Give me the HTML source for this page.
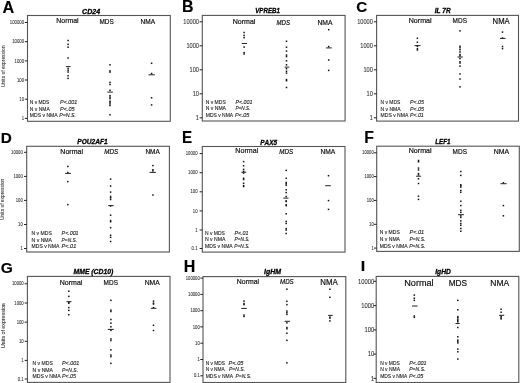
<!DOCTYPE html>
<html><head><meta charset="utf-8"><style>
html,body{margin:0;padding:0;background:#fff;}
svg{display:block;will-change:transform;filter:blur(0.3px);}
text{font-family:"Liberation Sans", sans-serif;font-kerning:none;}
</style></head><body>
<svg width="520" height="383" viewBox="0 0 520 383">
<rect width="520" height="383" fill="#fff"/>
<rect x="27.50" y="15.50" width="142.80" height="105.80" fill="none" stroke="#555" stroke-width="1.1"/>
<text transform="translate(2.50,12.60) scale(1.025,1)" font-size="15.84" font-weight="bold" font-style="normal" fill="#000" stroke="#000" stroke-width="0.150">A</text>
<text transform="translate(82.10,14.28) scale(0.981,1)" font-size="7.20" font-weight="bold" font-style="italic" fill="#000" stroke="#000" stroke-width="0.300">CD24</text>
<text transform="translate(56.28,23.41) scale(0.949,1)" font-size="7.30" font-weight="normal" font-style="normal" fill="#111" stroke="#111" stroke-width="0.200">Normal</text>
<text transform="translate(99.42,23.76) scale(0.883,1)" font-size="7.30" font-weight="normal" font-style="normal" fill="#111" stroke="#111" stroke-width="0.200">MDS</text>
<text transform="translate(140.61,23.91) scale(0.903,1)" font-size="7.30" font-weight="normal" font-style="normal" fill="#111" stroke="#111" stroke-width="0.200">NMA</text>
<line x1="24.80" y1="22.50" x2="27.50" y2="22.50" stroke="#222" stroke-width="1.0"/>
<text transform="translate(24.10,24.25) scale(0.86,1)" font-size="5.00" text-anchor="end" fill="#333" stroke="#333" stroke-width="0.08">100000</text>
<line x1="24.80" y1="41.70" x2="27.50" y2="41.70" stroke="#222" stroke-width="1.0"/>
<text transform="translate(24.10,43.45) scale(0.86,1)" font-size="5.00" text-anchor="end" fill="#333" stroke="#333" stroke-width="0.08">10000</text>
<line x1="24.80" y1="60.90" x2="27.50" y2="60.90" stroke="#222" stroke-width="1.0"/>
<text transform="translate(24.10,62.65) scale(0.86,1)" font-size="5.00" text-anchor="end" fill="#333" stroke="#333" stroke-width="0.08">1000</text>
<line x1="24.80" y1="80.00" x2="27.50" y2="80.00" stroke="#222" stroke-width="1.0"/>
<text transform="translate(24.10,81.75) scale(0.86,1)" font-size="5.00" text-anchor="end" fill="#333" stroke="#333" stroke-width="0.08">100</text>
<line x1="24.80" y1="99.20" x2="27.50" y2="99.20" stroke="#222" stroke-width="1.0"/>
<text transform="translate(24.10,100.95) scale(0.86,1)" font-size="5.00" text-anchor="end" fill="#333" stroke="#333" stroke-width="0.08">10</text>
<line x1="24.80" y1="118.40" x2="27.50" y2="118.40" stroke="#222" stroke-width="1.0"/>
<text transform="translate(24.10,120.15) scale(0.86,1)" font-size="5.00" text-anchor="end" fill="#333" stroke="#333" stroke-width="0.08">1</text>
<text transform="translate(4.90,66.25) rotate(-90)" font-size="5" text-anchor="middle" fill="#444" stroke="#444" stroke-width="0.1" textLength="41.5" lengthAdjust="spacingAndGlyphs">Units of expression</text>
<text transform="translate(29.85,104.18) scale(0.872,1)" font-size="5.60" font-weight="normal" font-style="normal" fill="#222" stroke="#222" stroke-width="0.120">N v MDS</text>
<text transform="translate(60.08,104.18) scale(0.962,1)" font-size="5.60" font-weight="normal" font-style="italic" fill="#222" stroke="#222" stroke-width="0.120">P&lt;.001</text>
<text transform="translate(29.84,110.83) scale(0.889,1)" font-size="5.60" font-weight="normal" font-style="normal" fill="#222" stroke="#222" stroke-width="0.120">N v NMA</text>
<text transform="translate(60.08,110.83) scale(0.977,1)" font-size="5.60" font-weight="normal" font-style="italic" fill="#222" stroke="#222" stroke-width="0.120">P&lt;.05</text>
<text transform="translate(29.83,117.23) scale(0.903,1)" font-size="5.60" font-weight="normal" font-style="normal" fill="#222" stroke="#222" stroke-width="0.120">MDS v NMA</text>
<text transform="translate(59.19,117.23) scale(0.939,1)" font-size="5.60" font-weight="normal" font-style="italic" fill="#222" stroke="#222" stroke-width="0.120">P=N.S.</text>
<rect x="67.35" y="39.75" width="1.50" height="1.50" fill="#111"/>
<rect x="67.35" y="43.65" width="1.50" height="1.50" fill="#111"/>
<rect x="67.35" y="46.45" width="1.50" height="1.50" fill="#111"/>
<rect x="67.35" y="57.25" width="1.50" height="1.50" fill="#111"/>
<rect x="67.35" y="67.75" width="1.50" height="1.50" fill="#111"/>
<rect x="67.35" y="69.45" width="1.50" height="1.50" fill="#111"/>
<rect x="67.35" y="71.25" width="1.50" height="1.50" fill="#111"/>
<rect x="67.35" y="74.95" width="1.50" height="1.50" fill="#111"/>
<rect x="67.35" y="77.65" width="1.50" height="1.50" fill="#111"/>
<rect x="109.25" y="64.05" width="1.50" height="1.50" fill="#111"/>
<rect x="109.25" y="70.15" width="1.50" height="1.50" fill="#111"/>
<rect x="109.25" y="71.35" width="1.50" height="1.50" fill="#111"/>
<rect x="109.25" y="81.65" width="1.50" height="1.50" fill="#111"/>
<rect x="109.25" y="83.75" width="1.50" height="1.50" fill="#111"/>
<rect x="109.25" y="89.55" width="1.50" height="1.50" fill="#111"/>
<rect x="109.25" y="94.85" width="1.50" height="1.50" fill="#111"/>
<rect x="109.25" y="96.35" width="1.50" height="1.50" fill="#111"/>
<rect x="109.25" y="97.85" width="1.50" height="1.50" fill="#111"/>
<rect x="109.25" y="100.45" width="1.50" height="1.50" fill="#111"/>
<rect x="109.25" y="101.65" width="1.50" height="1.50" fill="#111"/>
<rect x="109.25" y="103.15" width="1.50" height="1.50" fill="#111"/>
<rect x="109.25" y="104.75" width="1.50" height="1.50" fill="#111"/>
<rect x="109.25" y="114.05" width="1.50" height="1.50" fill="#111"/>
<rect x="150.85" y="62.55" width="1.50" height="1.50" fill="#111"/>
<rect x="150.85" y="72.75" width="1.50" height="1.50" fill="#111"/>
<rect x="150.85" y="97.05" width="1.50" height="1.50" fill="#111"/>
<rect x="150.85" y="104.15" width="1.50" height="1.50" fill="#111"/>
<rect x="65.90" y="66.10" width="4.70" height="1.00" fill="#222"/>
<rect x="107.30" y="91.60" width="5.60" height="1.00" fill="#222"/>
<rect x="148.50" y="74.30" width="6.30" height="1.00" fill="#222"/>
<rect x="202.30" y="15.40" width="142.80" height="105.60" fill="none" stroke="#555" stroke-width="1.1"/>
<text transform="translate(182.04,11.50) scale(0.952,1)" font-size="16.72" font-weight="bold" font-style="normal" fill="#000" stroke="#000" stroke-width="0.150">B</text>
<text transform="translate(255.23,12.98) scale(0.859,1)" font-size="7.20" font-weight="bold" font-style="italic" fill="#000" stroke="#000" stroke-width="0.300">VPREB1</text>
<text transform="translate(232.77,24.36) scale(0.963,1)" font-size="7.30" font-weight="normal" font-style="normal" fill="#111" stroke="#111" stroke-width="0.200">Normal</text>
<text transform="translate(276.56,25.11) scale(0.829,1)" font-size="7.30" font-weight="normal" font-style="italic" fill="#111" stroke="#111" stroke-width="0.200">MDS</text>
<text transform="translate(317.39,25.11) scale(0.929,1)" font-size="7.30" font-weight="normal" font-style="normal" fill="#111" stroke="#111" stroke-width="0.200">NMA</text>
<line x1="199.60" y1="21.80" x2="202.30" y2="21.80" stroke="#222" stroke-width="1.0"/>
<text transform="translate(199.00,24.07) scale(0.87,1)" font-size="6.50" text-anchor="end" fill="#333" stroke="#333" stroke-width="0.08">10000</text>
<line x1="199.60" y1="45.80" x2="202.30" y2="45.80" stroke="#222" stroke-width="1.0"/>
<text transform="translate(199.00,48.07) scale(0.87,1)" font-size="6.50" text-anchor="end" fill="#333" stroke="#333" stroke-width="0.08">1000</text>
<line x1="199.60" y1="69.80" x2="202.30" y2="69.80" stroke="#222" stroke-width="1.0"/>
<text transform="translate(199.00,72.08) scale(0.87,1)" font-size="6.50" text-anchor="end" fill="#333" stroke="#333" stroke-width="0.08">100</text>
<line x1="199.60" y1="93.80" x2="202.30" y2="93.80" stroke="#222" stroke-width="1.0"/>
<text transform="translate(199.00,96.08) scale(0.87,1)" font-size="6.50" text-anchor="end" fill="#333" stroke="#333" stroke-width="0.08">10</text>
<line x1="199.60" y1="117.80" x2="202.30" y2="117.80" stroke="#222" stroke-width="1.0"/>
<text transform="translate(199.00,120.08) scale(0.87,1)" font-size="6.50" text-anchor="end" fill="#333" stroke="#333" stroke-width="0.08">1</text>
<text transform="translate(205.74,103.83) scale(0.895,1)" font-size="5.60" font-weight="normal" font-style="normal" fill="#222" stroke="#222" stroke-width="0.120">N v MDS</text>
<text transform="translate(235.49,103.83) scale(0.950,1)" font-size="5.60" font-weight="normal" font-style="italic" fill="#222" stroke="#222" stroke-width="0.120">P&lt;.001</text>
<text transform="translate(205.73,110.43) scale(0.907,1)" font-size="5.60" font-weight="normal" font-style="normal" fill="#222" stroke="#222" stroke-width="0.120">N v NMA</text>
<text transform="translate(235.51,110.43) scale(0.828,1)" font-size="5.60" font-weight="normal" font-style="italic" fill="#222" stroke="#222" stroke-width="0.120">P=N.S.</text>
<text transform="translate(205.74,116.88) scale(0.894,1)" font-size="5.60" font-weight="normal" font-style="normal" fill="#222" stroke="#222" stroke-width="0.120">MDS v NMA</text>
<text transform="translate(234.88,116.88) scale(0.977,1)" font-size="5.60" font-weight="normal" font-style="italic" fill="#222" stroke="#222" stroke-width="0.120">P&lt;.05</text>
<rect x="243.35" y="31.75" width="1.50" height="1.50" fill="#111"/>
<rect x="243.35" y="34.65" width="1.50" height="1.50" fill="#111"/>
<rect x="243.35" y="36.85" width="1.50" height="1.50" fill="#111"/>
<rect x="243.35" y="46.35" width="1.50" height="1.50" fill="#111"/>
<rect x="243.35" y="51.85" width="1.50" height="1.50" fill="#111"/>
<rect x="243.35" y="53.25" width="1.50" height="1.50" fill="#111"/>
<rect x="285.75" y="40.55" width="1.50" height="1.50" fill="#111"/>
<rect x="285.75" y="46.45" width="1.50" height="1.50" fill="#111"/>
<rect x="285.75" y="50.35" width="1.50" height="1.50" fill="#111"/>
<rect x="285.75" y="54.35" width="1.50" height="1.50" fill="#111"/>
<rect x="285.75" y="55.85" width="1.50" height="1.50" fill="#111"/>
<rect x="285.75" y="60.05" width="1.50" height="1.50" fill="#111"/>
<rect x="285.75" y="64.05" width="1.50" height="1.50" fill="#111"/>
<rect x="285.75" y="67.95" width="1.50" height="1.50" fill="#111"/>
<rect x="285.75" y="70.55" width="1.50" height="1.50" fill="#111"/>
<rect x="285.75" y="72.35" width="1.50" height="1.50" fill="#111"/>
<rect x="285.75" y="78.85" width="1.50" height="1.50" fill="#111"/>
<rect x="285.75" y="79.95" width="1.50" height="1.50" fill="#111"/>
<rect x="285.75" y="86.75" width="1.50" height="1.50" fill="#111"/>
<rect x="327.95" y="28.95" width="1.50" height="1.50" fill="#111"/>
<rect x="327.95" y="45.85" width="1.50" height="1.50" fill="#111"/>
<rect x="327.95" y="59.25" width="1.50" height="1.50" fill="#111"/>
<rect x="327.95" y="69.65" width="1.50" height="1.50" fill="#111"/>
<rect x="241.80" y="43.00" width="5.20" height="1.00" fill="#222"/>
<rect x="284.60" y="66.60" width="4.70" height="1.00" fill="#222"/>
<rect x="326.10" y="47.40" width="5.70" height="1.00" fill="#222"/>
<rect x="376.60" y="15.40" width="141.90" height="105.70" fill="none" stroke="#555" stroke-width="1.1"/>
<text transform="translate(356.37,12.00) scale(1.042,1)" font-size="14.68" font-weight="bold" font-style="normal" fill="#000" stroke="#000" stroke-width="0.150">C</text>
<text transform="translate(434.63,13.38) scale(0.912,1)" font-size="7.20" font-weight="bold" font-style="italic" fill="#000" stroke="#000" stroke-width="0.300">IL 7R</text>
<text transform="translate(408.77,22.51) scale(0.967,1)" font-size="7.30" font-weight="normal" font-style="normal" fill="#111" stroke="#111" stroke-width="0.200">Normal</text>
<text transform="translate(452.62,23.41) scale(0.883,1)" font-size="7.30" font-weight="normal" font-style="normal" fill="#111" stroke="#111" stroke-width="0.200">MDS</text>
<text transform="translate(492.62,23.84) scale(0.919,1)" font-size="8.40" font-weight="normal" font-style="normal" fill="#111" stroke="#111" stroke-width="0.200">NMA</text>
<line x1="373.90" y1="21.80" x2="376.60" y2="21.80" stroke="#222" stroke-width="1.0"/>
<text transform="translate(372.90,24.07) scale(0.87,1)" font-size="6.50" text-anchor="end" fill="#333" stroke="#333" stroke-width="0.08">10000</text>
<line x1="373.90" y1="45.80" x2="376.60" y2="45.80" stroke="#222" stroke-width="1.0"/>
<text transform="translate(372.90,48.07) scale(0.87,1)" font-size="6.50" text-anchor="end" fill="#333" stroke="#333" stroke-width="0.08">1000</text>
<line x1="373.90" y1="69.80" x2="376.60" y2="69.80" stroke="#222" stroke-width="1.0"/>
<text transform="translate(372.90,72.08) scale(0.87,1)" font-size="6.50" text-anchor="end" fill="#333" stroke="#333" stroke-width="0.08">100</text>
<line x1="373.90" y1="93.80" x2="376.60" y2="93.80" stroke="#222" stroke-width="1.0"/>
<text transform="translate(372.90,96.08) scale(0.87,1)" font-size="6.50" text-anchor="end" fill="#333" stroke="#333" stroke-width="0.08">10</text>
<line x1="373.90" y1="117.80" x2="376.60" y2="117.80" stroke="#222" stroke-width="1.0"/>
<text transform="translate(372.90,120.08) scale(0.87,1)" font-size="6.50" text-anchor="end" fill="#333" stroke="#333" stroke-width="0.08">1</text>
<text transform="translate(380.55,104.38) scale(0.881,1)" font-size="5.60" font-weight="normal" font-style="normal" fill="#222" stroke="#222" stroke-width="0.120">N v MDS</text>
<text transform="translate(409.99,104.38) scale(0.950,1)" font-size="5.60" font-weight="normal" font-style="italic" fill="#222" stroke="#222" stroke-width="0.120">P&lt;.05</text>
<text transform="translate(380.54,110.83) scale(0.898,1)" font-size="5.60" font-weight="normal" font-style="normal" fill="#222" stroke="#222" stroke-width="0.120">N v NMA</text>
<text transform="translate(409.99,110.83) scale(0.950,1)" font-size="5.60" font-weight="normal" font-style="italic" fill="#222" stroke="#222" stroke-width="0.120">P&lt;.05</text>
<text transform="translate(380.53,117.08) scale(0.903,1)" font-size="5.60" font-weight="normal" font-style="normal" fill="#222" stroke="#222" stroke-width="0.120">MDS v NMA</text>
<text transform="translate(409.99,117.08) scale(0.933,1)" font-size="5.60" font-weight="normal" font-style="italic" fill="#222" stroke="#222" stroke-width="0.120">P&lt;.01</text>
<rect x="416.65" y="37.55" width="1.50" height="1.50" fill="#111"/>
<rect x="416.65" y="41.45" width="1.50" height="1.50" fill="#111"/>
<rect x="416.65" y="45.65" width="1.50" height="1.50" fill="#111"/>
<rect x="416.65" y="48.05" width="1.50" height="1.50" fill="#111"/>
<rect x="416.65" y="49.25" width="1.50" height="1.50" fill="#111"/>
<rect x="459.25" y="30.15" width="1.50" height="1.50" fill="#111"/>
<rect x="459.25" y="45.55" width="1.50" height="1.50" fill="#111"/>
<rect x="459.25" y="47.05" width="1.50" height="1.50" fill="#111"/>
<rect x="459.25" y="48.95" width="1.50" height="1.50" fill="#111"/>
<rect x="459.25" y="51.25" width="1.50" height="1.50" fill="#111"/>
<rect x="459.25" y="53.75" width="1.50" height="1.50" fill="#111"/>
<rect x="459.25" y="55.05" width="1.50" height="1.50" fill="#111"/>
<rect x="459.25" y="57.85" width="1.50" height="1.50" fill="#111"/>
<rect x="459.25" y="61.05" width="1.50" height="1.50" fill="#111"/>
<rect x="459.25" y="62.25" width="1.50" height="1.50" fill="#111"/>
<rect x="459.25" y="65.35" width="1.50" height="1.50" fill="#111"/>
<rect x="459.25" y="73.15" width="1.50" height="1.50" fill="#111"/>
<rect x="459.25" y="78.25" width="1.50" height="1.50" fill="#111"/>
<rect x="459.25" y="86.15" width="1.50" height="1.50" fill="#111"/>
<rect x="501.75" y="31.35" width="1.50" height="1.50" fill="#111"/>
<rect x="501.75" y="37.35" width="1.50" height="1.50" fill="#111"/>
<rect x="501.75" y="45.75" width="1.50" height="1.50" fill="#111"/>
<rect x="501.75" y="47.85" width="1.50" height="1.50" fill="#111"/>
<rect x="414.50" y="45.10" width="6.00" height="1.00" fill="#222"/>
<rect x="457.50" y="56.50" width="5.30" height="1.00" fill="#222"/>
<rect x="500.00" y="37.90" width="5.50" height="1.00" fill="#222"/>
<rect x="26.70" y="146.30" width="142.70" height="105.70" fill="none" stroke="#555" stroke-width="1.1"/>
<text transform="translate(0.87,143.40) scale(0.986,1)" font-size="15.55" font-weight="bold" font-style="normal" fill="#000" stroke="#000" stroke-width="0.150">D</text>
<text transform="translate(77.23,143.53) scale(0.918,1)" font-size="7.20" font-weight="bold" font-style="italic" fill="#000" stroke="#000" stroke-width="0.300">POU2AF1</text>
<text transform="translate(60.37,153.56) scale(0.963,1)" font-size="7.30" font-weight="normal" font-style="normal" fill="#111" stroke="#111" stroke-width="0.200">Normal</text>
<text transform="translate(104.26,153.61) scale(0.854,1)" font-size="7.30" font-weight="normal" font-style="italic" fill="#111" stroke="#111" stroke-width="0.200">MDS</text>
<text transform="translate(145.42,153.96) scale(0.884,1)" font-size="7.30" font-weight="normal" font-style="normal" fill="#111" stroke="#111" stroke-width="0.200">NMA</text>
<line x1="24.00" y1="152.30" x2="26.70" y2="152.30" stroke="#222" stroke-width="1.0"/>
<text transform="translate(22.80,153.91) scale(0.92,1)" font-size="4.60" text-anchor="end" fill="#333" stroke="#333" stroke-width="0.08">10000</text>
<line x1="24.00" y1="176.40" x2="26.70" y2="176.40" stroke="#222" stroke-width="1.0"/>
<text transform="translate(22.80,178.01) scale(0.92,1)" font-size="4.60" text-anchor="end" fill="#333" stroke="#333" stroke-width="0.08">1000</text>
<line x1="24.00" y1="200.40" x2="26.70" y2="200.40" stroke="#222" stroke-width="1.0"/>
<text transform="translate(22.80,202.01) scale(0.92,1)" font-size="4.60" text-anchor="end" fill="#333" stroke="#333" stroke-width="0.08">100</text>
<line x1="24.00" y1="224.50" x2="26.70" y2="224.50" stroke="#222" stroke-width="1.0"/>
<text transform="translate(22.80,226.11) scale(0.92,1)" font-size="4.60" text-anchor="end" fill="#333" stroke="#333" stroke-width="0.08">10</text>
<line x1="24.00" y1="248.50" x2="26.70" y2="248.50" stroke="#222" stroke-width="1.0"/>
<text transform="translate(22.80,250.11) scale(0.92,1)" font-size="4.60" text-anchor="end" fill="#333" stroke="#333" stroke-width="0.08">1</text>
<text transform="translate(4.40,199.30) rotate(-90)" font-size="5" text-anchor="middle" fill="#444" stroke="#444" stroke-width="0.1" textLength="41.2" lengthAdjust="spacingAndGlyphs">Units of expression</text>
<text transform="translate(31.53,235.28) scale(0.909,1)" font-size="5.60" font-weight="normal" font-style="normal" fill="#222" stroke="#222" stroke-width="0.120">N v MDS</text>
<text transform="translate(61.59,235.28) scale(0.950,1)" font-size="5.60" font-weight="normal" font-style="italic" fill="#222" stroke="#222" stroke-width="0.120">P&lt;.001</text>
<text transform="translate(31.53,241.93) scale(0.917,1)" font-size="5.60" font-weight="normal" font-style="normal" fill="#222" stroke="#222" stroke-width="0.120">N v NMA</text>
<text transform="translate(61.60,241.93) scale(0.863,1)" font-size="5.60" font-weight="normal" font-style="italic" fill="#222" stroke="#222" stroke-width="0.120">P=N.S.</text>
<text transform="translate(31.53,248.23) scale(0.903,1)" font-size="5.60" font-weight="normal" font-style="normal" fill="#222" stroke="#222" stroke-width="0.120">MDS v NMA</text>
<text transform="translate(61.58,248.23) scale(0.997,1)" font-size="5.60" font-weight="normal" font-style="italic" fill="#222" stroke="#222" stroke-width="0.120">P&lt;.01</text>
<rect x="67.05" y="165.75" width="1.50" height="1.50" fill="#111"/>
<rect x="67.05" y="171.75" width="1.50" height="1.50" fill="#111"/>
<rect x="67.05" y="180.85" width="1.50" height="1.50" fill="#111"/>
<rect x="67.05" y="203.85" width="1.50" height="1.50" fill="#111"/>
<rect x="109.85" y="178.35" width="1.50" height="1.50" fill="#111"/>
<rect x="109.85" y="185.35" width="1.50" height="1.50" fill="#111"/>
<rect x="109.85" y="191.35" width="1.50" height="1.50" fill="#111"/>
<rect x="109.85" y="195.75" width="1.50" height="1.50" fill="#111"/>
<rect x="109.85" y="197.05" width="1.50" height="1.50" fill="#111"/>
<rect x="109.85" y="198.75" width="1.50" height="1.50" fill="#111"/>
<rect x="109.85" y="205.25" width="1.50" height="1.50" fill="#111"/>
<rect x="109.85" y="214.45" width="1.50" height="1.50" fill="#111"/>
<rect x="109.85" y="219.85" width="1.50" height="1.50" fill="#111"/>
<rect x="109.85" y="220.95" width="1.50" height="1.50" fill="#111"/>
<rect x="109.85" y="226.95" width="1.50" height="1.50" fill="#111"/>
<rect x="109.85" y="234.45" width="1.50" height="1.50" fill="#111"/>
<rect x="109.85" y="236.55" width="1.50" height="1.50" fill="#111"/>
<rect x="109.85" y="240.75" width="1.50" height="1.50" fill="#111"/>
<rect x="152.15" y="164.85" width="1.50" height="1.50" fill="#111"/>
<rect x="152.15" y="168.95" width="1.50" height="1.50" fill="#111"/>
<rect x="152.15" y="170.15" width="1.50" height="1.50" fill="#111"/>
<rect x="152.15" y="194.25" width="1.50" height="1.50" fill="#111"/>
<rect x="65.20" y="172.90" width="5.70" height="1.00" fill="#222"/>
<rect x="108.20" y="205.10" width="5.50" height="1.00" fill="#222"/>
<rect x="149.60" y="171.90" width="6.30" height="1.00" fill="#222"/>
<rect x="202.30" y="146.50" width="142.70" height="105.60" fill="none" stroke="#555" stroke-width="1.1"/>
<text transform="translate(182.09,142.80) scale(0.956,1)" font-size="15.84" font-weight="bold" font-style="normal" fill="#000" stroke="#000" stroke-width="0.150">E</text>
<text transform="translate(260.24,144.58) scale(0.895,1)" font-size="7.20" font-weight="bold" font-style="italic" fill="#000" stroke="#000" stroke-width="0.300">PAX5</text>
<text transform="translate(235.37,153.41) scale(0.972,1)" font-size="7.30" font-weight="normal" font-style="normal" fill="#111" stroke="#111" stroke-width="0.200">Normal</text>
<text transform="translate(279.26,153.96) scale(0.854,1)" font-size="7.30" font-weight="normal" font-style="italic" fill="#111" stroke="#111" stroke-width="0.200">MDS</text>
<text transform="translate(320.41,153.96) scale(0.910,1)" font-size="7.30" font-weight="normal" font-style="normal" fill="#111" stroke="#111" stroke-width="0.200">NMA</text>
<line x1="199.60" y1="153.60" x2="202.30" y2="153.60" stroke="#222" stroke-width="1.0"/>
<text transform="translate(197.50,155.21) scale(0.92,1)" font-size="4.60" text-anchor="end" fill="#333" stroke="#333" stroke-width="0.08">10000</text>
<line x1="199.60" y1="172.70" x2="202.30" y2="172.70" stroke="#222" stroke-width="1.0"/>
<text transform="translate(197.50,174.31) scale(0.92,1)" font-size="4.60" text-anchor="end" fill="#333" stroke="#333" stroke-width="0.08">1000</text>
<line x1="199.60" y1="191.80" x2="202.30" y2="191.80" stroke="#222" stroke-width="1.0"/>
<text transform="translate(197.50,193.41) scale(0.92,1)" font-size="4.60" text-anchor="end" fill="#333" stroke="#333" stroke-width="0.08">100</text>
<line x1="199.60" y1="210.90" x2="202.30" y2="210.90" stroke="#222" stroke-width="1.0"/>
<text transform="translate(197.50,212.51) scale(0.92,1)" font-size="4.60" text-anchor="end" fill="#333" stroke="#333" stroke-width="0.08">10</text>
<line x1="199.60" y1="230.00" x2="202.30" y2="230.00" stroke="#222" stroke-width="1.0"/>
<text transform="translate(197.50,231.61) scale(0.92,1)" font-size="4.60" text-anchor="end" fill="#333" stroke="#333" stroke-width="0.08">1</text>
<line x1="199.60" y1="248.50" x2="202.30" y2="248.50" stroke="#222" stroke-width="1.0"/>
<text transform="translate(197.50,250.11) scale(0.92,1)" font-size="4.60" text-anchor="end" fill="#333" stroke="#333" stroke-width="0.08">0.1</text>
<text transform="translate(204.94,234.83) scale(0.890,1)" font-size="5.60" font-weight="normal" font-style="normal" fill="#222" stroke="#222" stroke-width="0.120">N v MDS</text>
<text transform="translate(234.49,234.83) scale(0.947,1)" font-size="5.60" font-weight="normal" font-style="italic" fill="#222" stroke="#222" stroke-width="0.120">P&lt;.01</text>
<text transform="translate(204.93,241.43) scale(0.921,1)" font-size="5.60" font-weight="normal" font-style="normal" fill="#222" stroke="#222" stroke-width="0.120">N v NMA</text>
<text transform="translate(234.50,241.43) scale(0.851,1)" font-size="5.60" font-weight="normal" font-style="italic" fill="#222" stroke="#222" stroke-width="0.120">P=N.S.</text>
<text transform="translate(204.93,247.98) scale(0.903,1)" font-size="5.60" font-weight="normal" font-style="normal" fill="#222" stroke="#222" stroke-width="0.120">MDS v NMA</text>
<text transform="translate(234.30,247.98) scale(0.863,1)" font-size="5.60" font-weight="normal" font-style="italic" fill="#222" stroke="#222" stroke-width="0.120">P=N.S.</text>
<rect x="242.85" y="160.85" width="1.50" height="1.50" fill="#111"/>
<rect x="242.85" y="165.05" width="1.50" height="1.50" fill="#111"/>
<rect x="242.85" y="168.65" width="1.50" height="1.50" fill="#111"/>
<rect x="242.85" y="170.65" width="1.50" height="1.50" fill="#111"/>
<rect x="242.85" y="172.35" width="1.50" height="1.50" fill="#111"/>
<rect x="242.85" y="177.55" width="1.50" height="1.50" fill="#111"/>
<rect x="242.85" y="178.75" width="1.50" height="1.50" fill="#111"/>
<rect x="242.85" y="182.55" width="1.50" height="1.50" fill="#111"/>
<rect x="242.85" y="184.85" width="1.50" height="1.50" fill="#111"/>
<rect x="242.85" y="185.75" width="1.50" height="1.50" fill="#111"/>
<rect x="285.45" y="169.65" width="1.50" height="1.50" fill="#111"/>
<rect x="285.45" y="177.55" width="1.50" height="1.50" fill="#111"/>
<rect x="285.45" y="181.75" width="1.50" height="1.50" fill="#111"/>
<rect x="285.45" y="183.05" width="1.50" height="1.50" fill="#111"/>
<rect x="285.45" y="184.55" width="1.50" height="1.50" fill="#111"/>
<rect x="285.45" y="189.05" width="1.50" height="1.50" fill="#111"/>
<rect x="285.45" y="191.85" width="1.50" height="1.50" fill="#111"/>
<rect x="285.45" y="195.75" width="1.50" height="1.50" fill="#111"/>
<rect x="285.45" y="200.15" width="1.50" height="1.50" fill="#111"/>
<rect x="285.45" y="200.75" width="1.50" height="1.50" fill="#111"/>
<rect x="285.45" y="203.95" width="1.50" height="1.50" fill="#111"/>
<rect x="285.45" y="204.95" width="1.50" height="1.50" fill="#111"/>
<rect x="285.45" y="213.05" width="1.50" height="1.50" fill="#111"/>
<rect x="285.45" y="220.65" width="1.50" height="1.50" fill="#111"/>
<rect x="285.45" y="222.65" width="1.50" height="1.50" fill="#111"/>
<rect x="285.45" y="227.85" width="1.50" height="1.50" fill="#111"/>
<rect x="285.45" y="229.25" width="1.50" height="1.50" fill="#111"/>
<rect x="285.45" y="232.75" width="1.50" height="1.50" fill="#111"/>
<rect x="327.75" y="174.95" width="1.50" height="1.50" fill="#111"/>
<rect x="327.75" y="199.85" width="1.50" height="1.50" fill="#111"/>
<rect x="327.75" y="208.65" width="1.50" height="1.50" fill="#111"/>
<rect x="241.30" y="171.70" width="5.00" height="1.00" fill="#222"/>
<rect x="283.30" y="197.60" width="5.20" height="1.00" fill="#222"/>
<rect x="325.20" y="185.20" width="5.60" height="1.00" fill="#222"/>
<rect x="376.70" y="146.20" width="142.60" height="105.20" fill="none" stroke="#555" stroke-width="1.1"/>
<text transform="translate(364.35,143.40) scale(0.986,1)" font-size="15.99" font-weight="bold" font-style="normal" fill="#000" stroke="#000" stroke-width="0.150">F</text>
<text transform="translate(435.24,143.98) scale(0.860,1)" font-size="7.20" font-weight="bold" font-style="italic" fill="#000" stroke="#000" stroke-width="0.300">LEF1</text>
<text transform="translate(408.77,152.91) scale(0.967,1)" font-size="7.30" font-weight="normal" font-style="normal" fill="#111" stroke="#111" stroke-width="0.200">Normal</text>
<text transform="translate(452.62,153.61) scale(0.883,1)" font-size="7.30" font-weight="normal" font-style="normal" fill="#111" stroke="#111" stroke-width="0.200">MDS</text>
<text transform="translate(493.68,154.06) scale(0.948,1)" font-size="7.30" font-weight="normal" font-style="normal" fill="#111" stroke="#111" stroke-width="0.200">NMA</text>
<line x1="374.00" y1="152.80" x2="376.70" y2="152.80" stroke="#222" stroke-width="1.0"/>
<text transform="translate(373.80,154.41) scale(0.92,1)" font-size="4.60" text-anchor="end" fill="#333" stroke="#333" stroke-width="0.08">10000</text>
<line x1="374.00" y1="176.60" x2="376.70" y2="176.60" stroke="#222" stroke-width="1.0"/>
<text transform="translate(373.80,178.21) scale(0.92,1)" font-size="4.60" text-anchor="end" fill="#333" stroke="#333" stroke-width="0.08">1000</text>
<line x1="374.00" y1="200.40" x2="376.70" y2="200.40" stroke="#222" stroke-width="1.0"/>
<text transform="translate(373.80,202.01) scale(0.92,1)" font-size="4.60" text-anchor="end" fill="#333" stroke="#333" stroke-width="0.08">100</text>
<line x1="374.00" y1="224.30" x2="376.70" y2="224.30" stroke="#222" stroke-width="1.0"/>
<text transform="translate(373.80,225.91) scale(0.92,1)" font-size="4.60" text-anchor="end" fill="#333" stroke="#333" stroke-width="0.08">10</text>
<line x1="374.00" y1="248.10" x2="376.70" y2="248.10" stroke="#222" stroke-width="1.0"/>
<text transform="translate(373.80,249.71) scale(0.92,1)" font-size="4.60" text-anchor="end" fill="#333" stroke="#333" stroke-width="0.08">1</text>
<text transform="translate(379.74,234.13) scale(0.895,1)" font-size="5.60" font-weight="normal" font-style="normal" fill="#222" stroke="#222" stroke-width="0.120">N v MDS</text>
<text transform="translate(409.48,234.13) scale(0.997,1)" font-size="5.60" font-weight="normal" font-style="italic" fill="#222" stroke="#222" stroke-width="0.120">P&lt;.01</text>
<text transform="translate(379.73,240.73) scale(0.907,1)" font-size="5.60" font-weight="normal" font-style="normal" fill="#222" stroke="#222" stroke-width="0.120">N v NMA</text>
<text transform="translate(409.50,240.73) scale(0.892,1)" font-size="5.60" font-weight="normal" font-style="italic" fill="#222" stroke="#222" stroke-width="0.120">P=N.S.</text>
<text transform="translate(379.73,247.68) scale(0.903,1)" font-size="5.60" font-weight="normal" font-style="normal" fill="#222" stroke="#222" stroke-width="0.120">MDS v NMA</text>
<text transform="translate(409.19,247.68) scale(0.910,1)" font-size="5.60" font-weight="normal" font-style="italic" fill="#222" stroke="#222" stroke-width="0.120">P=N.S.</text>
<rect x="417.75" y="159.75" width="1.50" height="1.50" fill="#111"/>
<rect x="417.75" y="161.05" width="1.50" height="1.50" fill="#111"/>
<rect x="417.75" y="167.35" width="1.50" height="1.50" fill="#111"/>
<rect x="417.75" y="169.25" width="1.50" height="1.50" fill="#111"/>
<rect x="417.75" y="172.85" width="1.50" height="1.50" fill="#111"/>
<rect x="417.75" y="174.15" width="1.50" height="1.50" fill="#111"/>
<rect x="417.75" y="178.05" width="1.50" height="1.50" fill="#111"/>
<rect x="417.75" y="182.75" width="1.50" height="1.50" fill="#111"/>
<rect x="417.75" y="195.45" width="1.50" height="1.50" fill="#111"/>
<rect x="417.75" y="198.65" width="1.50" height="1.50" fill="#111"/>
<rect x="460.05" y="170.75" width="1.50" height="1.50" fill="#111"/>
<rect x="460.05" y="174.65" width="1.50" height="1.50" fill="#111"/>
<rect x="460.05" y="184.05" width="1.50" height="1.50" fill="#111"/>
<rect x="460.05" y="185.05" width="1.50" height="1.50" fill="#111"/>
<rect x="460.05" y="186.35" width="1.50" height="1.50" fill="#111"/>
<rect x="460.05" y="189.75" width="1.50" height="1.50" fill="#111"/>
<rect x="460.05" y="191.55" width="1.50" height="1.50" fill="#111"/>
<rect x="460.05" y="200.55" width="1.50" height="1.50" fill="#111"/>
<rect x="460.05" y="204.85" width="1.50" height="1.50" fill="#111"/>
<rect x="460.05" y="209.65" width="1.50" height="1.50" fill="#111"/>
<rect x="460.05" y="211.65" width="1.50" height="1.50" fill="#111"/>
<rect x="460.05" y="215.15" width="1.50" height="1.50" fill="#111"/>
<rect x="460.05" y="216.65" width="1.50" height="1.50" fill="#111"/>
<rect x="460.05" y="220.15" width="1.50" height="1.50" fill="#111"/>
<rect x="460.05" y="222.75" width="1.50" height="1.50" fill="#111"/>
<rect x="460.05" y="224.55" width="1.50" height="1.50" fill="#111"/>
<rect x="460.05" y="227.75" width="1.50" height="1.50" fill="#111"/>
<rect x="460.05" y="230.45" width="1.50" height="1.50" fill="#111"/>
<rect x="502.65" y="182.05" width="1.50" height="1.50" fill="#111"/>
<rect x="502.65" y="204.85" width="1.50" height="1.50" fill="#111"/>
<rect x="502.65" y="215.05" width="1.50" height="1.50" fill="#111"/>
<rect x="416.10" y="175.70" width="5.00" height="1.00" fill="#222"/>
<rect x="458.00" y="214.20" width="5.90" height="1.00" fill="#222"/>
<rect x="500.50" y="183.20" width="6.10" height="1.00" fill="#222"/>
<rect x="27.40" y="276.40" width="142.60" height="106.00" fill="none" stroke="#555" stroke-width="1.1"/>
<text transform="translate(0.76,273.40) scale(1.000,1)" font-size="15.55" font-weight="bold" font-style="normal" fill="#000" stroke="#000" stroke-width="0.150">G</text>
<text transform="translate(73.53,273.98) scale(0.948,1)" font-size="7.20" font-weight="bold" font-style="italic" fill="#000" stroke="#000" stroke-width="0.300">MME (CD10)</text>
<text transform="translate(59.77,284.81) scale(0.963,1)" font-size="7.30" font-weight="normal" font-style="normal" fill="#111" stroke="#111" stroke-width="0.200">Normal</text>
<text transform="translate(103.62,285.31) scale(0.883,1)" font-size="7.30" font-weight="normal" font-style="normal" fill="#111" stroke="#111" stroke-width="0.200">MDS</text>
<text transform="translate(144.69,285.31) scale(0.929,1)" font-size="7.30" font-weight="normal" font-style="normal" fill="#111" stroke="#111" stroke-width="0.200">NMA</text>
<line x1="24.70" y1="283.80" x2="27.40" y2="283.80" stroke="#222" stroke-width="1.0"/>
<text transform="translate(23.70,285.41) scale(0.92,1)" font-size="4.60" text-anchor="end" fill="#333" stroke="#333" stroke-width="0.08">10000</text>
<line x1="24.70" y1="303.00" x2="27.40" y2="303.00" stroke="#222" stroke-width="1.0"/>
<text transform="translate(23.70,304.61) scale(0.92,1)" font-size="4.60" text-anchor="end" fill="#333" stroke="#333" stroke-width="0.08">1000</text>
<line x1="24.70" y1="322.10" x2="27.40" y2="322.10" stroke="#222" stroke-width="1.0"/>
<text transform="translate(23.70,323.71) scale(0.92,1)" font-size="4.60" text-anchor="end" fill="#333" stroke="#333" stroke-width="0.08">100</text>
<line x1="24.70" y1="341.30" x2="27.40" y2="341.30" stroke="#222" stroke-width="1.0"/>
<text transform="translate(23.70,342.91) scale(0.92,1)" font-size="4.60" text-anchor="end" fill="#333" stroke="#333" stroke-width="0.08">10</text>
<line x1="24.70" y1="360.40" x2="27.40" y2="360.40" stroke="#222" stroke-width="1.0"/>
<text transform="translate(23.70,362.01) scale(0.92,1)" font-size="4.60" text-anchor="end" fill="#333" stroke="#333" stroke-width="0.08">1</text>
<line x1="24.70" y1="379.00" x2="27.40" y2="379.00" stroke="#222" stroke-width="1.0"/>
<text transform="translate(23.70,380.61) scale(0.92,1)" font-size="4.60" text-anchor="end" fill="#333" stroke="#333" stroke-width="0.08">0.1</text>
<text transform="translate(5.10,325.60) rotate(-90)" font-size="5" text-anchor="middle" fill="#444" stroke="#444" stroke-width="0.1" textLength="44.8" lengthAdjust="spacingAndGlyphs">Units of expression</text>
<text transform="translate(32.53,365.03) scale(0.909,1)" font-size="5.60" font-weight="normal" font-style="normal" fill="#222" stroke="#222" stroke-width="0.120">N v MDS</text>
<text transform="translate(61.98,365.03) scale(0.968,1)" font-size="5.60" font-weight="normal" font-style="italic" fill="#222" stroke="#222" stroke-width="0.120">P&lt;.001</text>
<text transform="translate(32.53,371.63) scale(0.917,1)" font-size="5.60" font-weight="normal" font-style="normal" fill="#222" stroke="#222" stroke-width="0.120">N v NMA</text>
<text transform="translate(62.00,371.63) scale(0.898,1)" font-size="5.60" font-weight="normal" font-style="italic" fill="#222" stroke="#222" stroke-width="0.120">P=N.S.</text>
<text transform="translate(32.53,378.13) scale(0.917,1)" font-size="5.60" font-weight="normal" font-style="normal" fill="#222" stroke="#222" stroke-width="0.120">MDS v NMA</text>
<text transform="translate(61.99,378.13) scale(0.950,1)" font-size="5.60" font-weight="normal" font-style="italic" fill="#222" stroke="#222" stroke-width="0.120">P&lt;.05</text>
<rect x="68.05" y="290.45" width="1.50" height="1.50" fill="#111"/>
<rect x="68.05" y="295.65" width="1.50" height="1.50" fill="#111"/>
<rect x="68.05" y="301.75" width="1.50" height="1.50" fill="#111"/>
<rect x="68.05" y="302.55" width="1.50" height="1.50" fill="#111"/>
<rect x="68.05" y="306.85" width="1.50" height="1.50" fill="#111"/>
<rect x="68.05" y="309.65" width="1.50" height="1.50" fill="#111"/>
<rect x="68.05" y="313.95" width="1.50" height="1.50" fill="#111"/>
<rect x="110.15" y="299.65" width="1.50" height="1.50" fill="#111"/>
<rect x="110.15" y="309.35" width="1.50" height="1.50" fill="#111"/>
<rect x="110.15" y="310.75" width="1.50" height="1.50" fill="#111"/>
<rect x="110.15" y="318.75" width="1.50" height="1.50" fill="#111"/>
<rect x="110.15" y="322.35" width="1.50" height="1.50" fill="#111"/>
<rect x="110.15" y="326.05" width="1.50" height="1.50" fill="#111"/>
<rect x="110.15" y="329.65" width="1.50" height="1.50" fill="#111"/>
<rect x="110.15" y="338.15" width="1.50" height="1.50" fill="#111"/>
<rect x="110.15" y="339.75" width="1.50" height="1.50" fill="#111"/>
<rect x="110.15" y="349.15" width="1.50" height="1.50" fill="#111"/>
<rect x="110.15" y="354.35" width="1.50" height="1.50" fill="#111"/>
<rect x="110.15" y="355.85" width="1.50" height="1.50" fill="#111"/>
<rect x="110.15" y="362.65" width="1.50" height="1.50" fill="#111"/>
<rect x="152.75" y="300.35" width="1.50" height="1.50" fill="#111"/>
<rect x="152.75" y="302.35" width="1.50" height="1.50" fill="#111"/>
<rect x="152.75" y="303.35" width="1.50" height="1.50" fill="#111"/>
<rect x="152.75" y="306.85" width="1.50" height="1.50" fill="#111"/>
<rect x="152.75" y="324.55" width="1.50" height="1.50" fill="#111"/>
<rect x="152.75" y="329.75" width="1.50" height="1.50" fill="#111"/>
<rect x="66.40" y="301.20" width="5.10" height="1.00" fill="#222"/>
<rect x="107.80" y="328.90" width="5.95" height="1.00" fill="#222"/>
<rect x="150.90" y="307.80" width="5.50" height="1.00" fill="#222"/>
<rect x="203.00" y="276.60" width="142.80" height="105.90" fill="none" stroke="#555" stroke-width="1.1"/>
<text transform="translate(183.73,272.20) scale(0.982,1)" font-size="16.28" font-weight="bold" font-style="normal" fill="#000" stroke="#000" stroke-width="0.150">H</text>
<text transform="translate(264.03,274.38) scale(0.966,1)" font-size="7.20" font-weight="bold" font-style="italic" fill="#000" stroke="#000" stroke-width="0.300">IgHM</text>
<text transform="translate(236.78,284.26) scale(0.949,1)" font-size="7.30" font-weight="normal" font-style="normal" fill="#111" stroke="#111" stroke-width="0.200">Normal</text>
<text transform="translate(280.06,284.16) scale(0.842,1)" font-size="7.30" font-weight="normal" font-style="italic" fill="#111" stroke="#111" stroke-width="0.200">MDS</text>
<text transform="translate(320.30,284.52) scale(0.930,1)" font-size="8.50" font-weight="normal" font-style="normal" fill="#111" stroke="#111" stroke-width="0.200">NMA</text>
<line x1="200.30" y1="278.10" x2="203.00" y2="278.10" stroke="#222" stroke-width="1.0"/>
<text transform="translate(199.80,279.71) scale(0.92,1)" font-size="4.60" text-anchor="end" fill="#333" stroke="#333" stroke-width="0.08">100000</text>
<line x1="200.30" y1="294.40" x2="203.00" y2="294.40" stroke="#222" stroke-width="1.0"/>
<text transform="translate(199.80,296.01) scale(0.92,1)" font-size="4.60" text-anchor="end" fill="#333" stroke="#333" stroke-width="0.08">10000</text>
<line x1="200.30" y1="310.70" x2="203.00" y2="310.70" stroke="#222" stroke-width="1.0"/>
<text transform="translate(199.80,312.31) scale(0.92,1)" font-size="4.60" text-anchor="end" fill="#333" stroke="#333" stroke-width="0.08">1000</text>
<line x1="200.30" y1="326.90" x2="203.00" y2="326.90" stroke="#222" stroke-width="1.0"/>
<text transform="translate(199.80,328.51) scale(0.92,1)" font-size="4.60" text-anchor="end" fill="#333" stroke="#333" stroke-width="0.08">100</text>
<line x1="200.30" y1="343.20" x2="203.00" y2="343.20" stroke="#222" stroke-width="1.0"/>
<text transform="translate(199.80,344.81) scale(0.92,1)" font-size="4.60" text-anchor="end" fill="#333" stroke="#333" stroke-width="0.08">10</text>
<line x1="200.30" y1="359.50" x2="203.00" y2="359.50" stroke="#222" stroke-width="1.0"/>
<text transform="translate(199.80,361.11) scale(0.92,1)" font-size="4.60" text-anchor="end" fill="#333" stroke="#333" stroke-width="0.08">1</text>
<line x1="200.30" y1="375.80" x2="203.00" y2="375.80" stroke="#222" stroke-width="1.0"/>
<text transform="translate(199.80,377.41) scale(0.92,1)" font-size="4.60" text-anchor="end" fill="#333" stroke="#333" stroke-width="0.08">0.1</text>
<text transform="translate(205.65,364.58) scale(0.862,1)" font-size="5.60" font-weight="normal" font-style="normal" fill="#222" stroke="#222" stroke-width="0.120">N v MDS</text>
<text transform="translate(228.58,364.58) scale(1.005,1)" font-size="5.60" font-weight="normal" font-style="italic" fill="#222" stroke="#222" stroke-width="0.120">P&lt;.05</text>
<text transform="translate(205.66,371.18) scale(0.853,1)" font-size="5.60" font-weight="normal" font-style="normal" fill="#222" stroke="#222" stroke-width="0.120">N v NMA</text>
<text transform="translate(229.00,371.18) scale(0.892,1)" font-size="5.60" font-weight="normal" font-style="italic" fill="#222" stroke="#222" stroke-width="0.120">P=N.S.</text>
<text transform="translate(205.64,377.83) scale(0.890,1)" font-size="5.60" font-weight="normal" font-style="normal" fill="#222" stroke="#222" stroke-width="0.120">MDS v NMA</text>
<text transform="translate(235.50,377.83) scale(0.886,1)" font-size="5.60" font-weight="normal" font-style="italic" fill="#222" stroke="#222" stroke-width="0.120">P=N.S.</text>
<rect x="243.25" y="300.35" width="1.50" height="1.50" fill="#111"/>
<rect x="243.25" y="302.75" width="1.50" height="1.50" fill="#111"/>
<rect x="243.25" y="303.85" width="1.50" height="1.50" fill="#111"/>
<rect x="243.25" y="314.35" width="1.50" height="1.50" fill="#111"/>
<rect x="243.25" y="315.75" width="1.50" height="1.50" fill="#111"/>
<rect x="286.15" y="288.45" width="1.50" height="1.50" fill="#111"/>
<rect x="286.15" y="300.55" width="1.50" height="1.50" fill="#111"/>
<rect x="286.15" y="303.85" width="1.50" height="1.50" fill="#111"/>
<rect x="286.15" y="310.35" width="1.50" height="1.50" fill="#111"/>
<rect x="286.15" y="311.95" width="1.50" height="1.50" fill="#111"/>
<rect x="286.15" y="313.65" width="1.50" height="1.50" fill="#111"/>
<rect x="286.15" y="322.15" width="1.50" height="1.50" fill="#111"/>
<rect x="286.15" y="326.75" width="1.50" height="1.50" fill="#111"/>
<rect x="286.15" y="328.05" width="1.50" height="1.50" fill="#111"/>
<rect x="286.15" y="332.45" width="1.50" height="1.50" fill="#111"/>
<rect x="286.15" y="339.65" width="1.50" height="1.50" fill="#111"/>
<rect x="286.15" y="362.05" width="1.50" height="1.50" fill="#111"/>
<rect x="329.15" y="288.45" width="1.50" height="1.50" fill="#111"/>
<rect x="329.15" y="296.55" width="1.50" height="1.50" fill="#111"/>
<rect x="329.15" y="316.35" width="1.50" height="1.50" fill="#111"/>
<rect x="329.15" y="317.35" width="1.50" height="1.50" fill="#111"/>
<rect x="329.15" y="320.15" width="1.50" height="1.50" fill="#111"/>
<rect x="241.30" y="307.90" width="5.50" height="1.00" fill="#222"/>
<rect x="284.60" y="320.80" width="5.50" height="1.00" fill="#222"/>
<rect x="328.10" y="314.90" width="4.60" height="1.00" fill="#222"/>
<rect x="376.20" y="276.40" width="142.60" height="106.10" fill="none" stroke="#555" stroke-width="1.1"/>
<text transform="translate(360.83,271.10) scale(1.027,1)" font-size="15.55" font-weight="bold" font-style="normal" fill="#000" stroke="#000" stroke-width="0.150">I</text>
<text transform="translate(435.23,274.28) scale(0.929,1)" font-size="7.20" font-weight="bold" font-style="italic" fill="#000" stroke="#000" stroke-width="0.300">IgHD</text>
<text transform="translate(404.20,285.85) scale(0.983,1)" font-size="9.30" font-weight="normal" font-style="normal" fill="#111" stroke="#111" stroke-width="0.200">Normal</text>
<text transform="translate(448.67,286.15) scale(0.893,1)" font-size="9.30" font-weight="normal" font-style="normal" fill="#111" stroke="#111" stroke-width="0.200">MDS</text>
<text transform="translate(490.35,286.30) scale(0.915,1)" font-size="9.30" font-weight="normal" font-style="normal" fill="#111" stroke="#111" stroke-width="0.200">NMA</text>
<line x1="373.50" y1="281.30" x2="376.20" y2="281.30" stroke="#222" stroke-width="1.0"/>
<text transform="translate(374.30,283.57) scale(0.9,1)" font-size="6.50" text-anchor="end" fill="#333" stroke="#333" stroke-width="0.08">10000</text>
<line x1="373.50" y1="305.60" x2="376.20" y2="305.60" stroke="#222" stroke-width="1.0"/>
<text transform="translate(374.30,307.88) scale(0.9,1)" font-size="6.50" text-anchor="end" fill="#333" stroke="#333" stroke-width="0.08">1000</text>
<line x1="373.50" y1="329.90" x2="376.20" y2="329.90" stroke="#222" stroke-width="1.0"/>
<text transform="translate(374.30,332.17) scale(0.9,1)" font-size="6.50" text-anchor="end" fill="#333" stroke="#333" stroke-width="0.08">100</text>
<line x1="373.50" y1="354.10" x2="376.20" y2="354.10" stroke="#222" stroke-width="1.0"/>
<text transform="translate(374.30,356.38) scale(0.9,1)" font-size="6.50" text-anchor="end" fill="#333" stroke="#333" stroke-width="0.08">10</text>
<line x1="373.50" y1="378.40" x2="376.20" y2="378.40" stroke="#222" stroke-width="1.0"/>
<text transform="translate(374.30,380.67) scale(0.9,1)" font-size="6.50" text-anchor="end" fill="#333" stroke="#333" stroke-width="0.08">1</text>
<text transform="translate(380.15,364.68) scale(0.876,1)" font-size="5.60" font-weight="normal" font-style="normal" fill="#222" stroke="#222" stroke-width="0.120">N v MDS</text>
<text transform="translate(409.18,364.68) scale(0.968,1)" font-size="5.60" font-weight="normal" font-style="italic" fill="#222" stroke="#222" stroke-width="0.120">P&lt;.001</text>
<text transform="translate(380.14,371.28) scale(0.889,1)" font-size="5.60" font-weight="normal" font-style="normal" fill="#222" stroke="#222" stroke-width="0.120">N v NMA</text>
<text transform="translate(409.19,371.28) scale(0.910,1)" font-size="5.60" font-weight="normal" font-style="italic" fill="#222" stroke="#222" stroke-width="0.120">P=N.S.</text>
<text transform="translate(380.15,377.83) scale(0.880,1)" font-size="5.60" font-weight="normal" font-style="normal" fill="#222" stroke="#222" stroke-width="0.120">MDS v NMA</text>
<text transform="translate(408.88,377.83) scale(0.977,1)" font-size="5.60" font-weight="normal" font-style="italic" fill="#222" stroke="#222" stroke-width="0.120">P&lt;.05</text>
<rect x="413.55" y="294.35" width="1.50" height="1.50" fill="#111"/>
<rect x="413.55" y="297.55" width="1.50" height="1.50" fill="#111"/>
<rect x="413.55" y="299.65" width="1.50" height="1.50" fill="#111"/>
<rect x="413.55" y="315.25" width="1.50" height="1.50" fill="#111"/>
<rect x="413.55" y="316.55" width="1.50" height="1.50" fill="#111"/>
<rect x="457.05" y="299.65" width="1.50" height="1.50" fill="#111"/>
<rect x="457.05" y="309.05" width="1.50" height="1.50" fill="#111"/>
<rect x="457.05" y="315.85" width="1.50" height="1.50" fill="#111"/>
<rect x="457.05" y="316.85" width="1.50" height="1.50" fill="#111"/>
<rect x="457.05" y="318.45" width="1.50" height="1.50" fill="#111"/>
<rect x="457.05" y="319.95" width="1.50" height="1.50" fill="#111"/>
<rect x="457.05" y="321.05" width="1.50" height="1.50" fill="#111"/>
<rect x="457.05" y="326.75" width="1.50" height="1.50" fill="#111"/>
<rect x="457.05" y="336.05" width="1.50" height="1.50" fill="#111"/>
<rect x="457.05" y="339.35" width="1.50" height="1.50" fill="#111"/>
<rect x="457.05" y="340.75" width="1.50" height="1.50" fill="#111"/>
<rect x="457.05" y="342.15" width="1.50" height="1.50" fill="#111"/>
<rect x="457.05" y="348.35" width="1.50" height="1.50" fill="#111"/>
<rect x="457.05" y="351.05" width="1.50" height="1.50" fill="#111"/>
<rect x="457.05" y="358.35" width="1.50" height="1.50" fill="#111"/>
<rect x="500.35" y="308.45" width="1.50" height="1.50" fill="#111"/>
<rect x="500.35" y="311.45" width="1.50" height="1.50" fill="#111"/>
<rect x="500.35" y="315.75" width="1.50" height="1.50" fill="#111"/>
<rect x="500.35" y="317.05" width="1.50" height="1.50" fill="#111"/>
<rect x="500.35" y="318.15" width="1.50" height="1.50" fill="#111"/>
<rect x="412.00" y="305.50" width="5.50" height="1.00" fill="#222"/>
<rect x="455.50" y="323.00" width="4.20" height="1.00" fill="#222"/>
<rect x="499.00" y="314.80" width="5.20" height="1.00" fill="#222"/>
</svg>
</body></html>
